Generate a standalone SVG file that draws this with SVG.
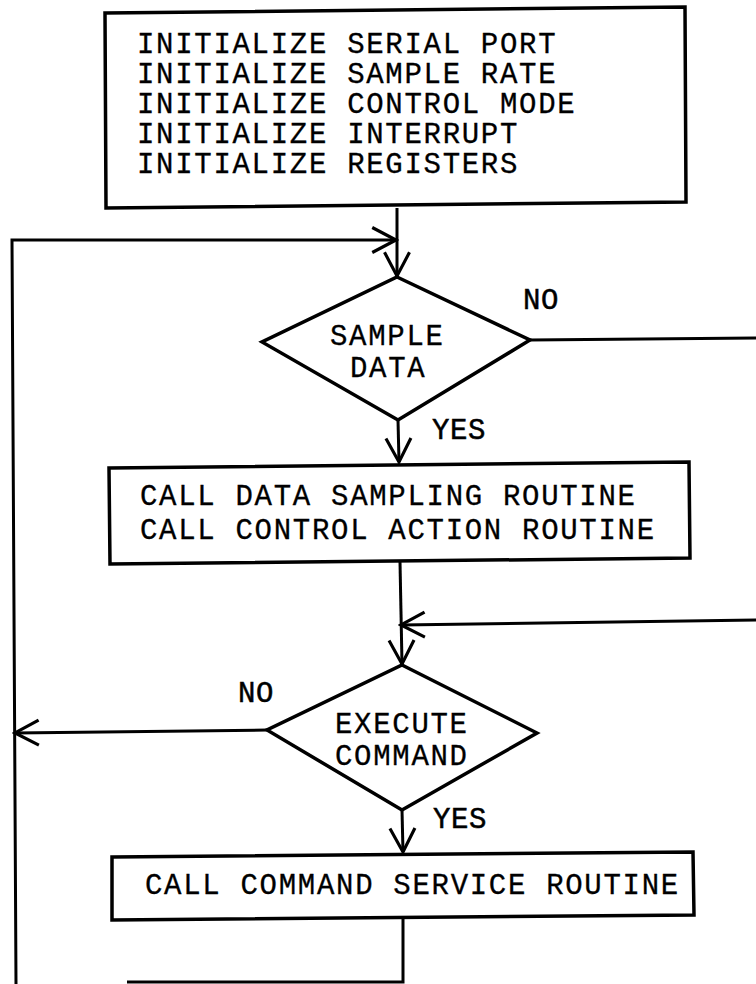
<svg xmlns="http://www.w3.org/2000/svg" width="756" height="984" viewBox="0 0 756 984">
  <style>
    .shape { fill: #fff; stroke: #000; stroke-width: 3.5; stroke-linejoin: miter; }
    .wire { fill: none; stroke: #000; stroke-width: 3; }
    .txt { font-family: "Liberation Mono", "Courier New", monospace; font-size: 29px; letter-spacing: 1.7px; fill: #000; stroke: #000; stroke-width: 0.3; }
    .lbl { font-family: "Liberation Mono", "Courier New", monospace; font-size: 29px; letter-spacing: 0.6px; fill: #000; stroke: #000; stroke-width: 0.5; }
  </style>
  <defs>
    <marker id="arrow" markerUnits="userSpaceOnUse" markerWidth="30" markerHeight="30" viewBox="-22 -12 24 24" refX="0" refY="0" orient="auto">
      <path d="M-19,-10 L0,0 L-19,10" fill="none" stroke="#000" stroke-width="2.5"/>
    </marker>
  </defs>
  <rect width="756" height="984" fill="#fff"/>

  <g id="connectors">
    <!-- init block down to first decision -->
    <path class="wire" d="M397,208 L397,276" marker-end="url(#arrow)"/>
    <!-- return loop entering from the left -->
    <path class="wire" d="M16,984 L12,240 L396,240" marker-end="url(#arrow)"/>
    <!-- SAMPLE DATA: NO branch leaving to the right -->
    <path class="wire" d="M530,340 L756,338"/>
    <!-- SAMPLE DATA: YES branch -->
    <path class="wire" d="M398,420 L399,462" marker-end="url(#arrow)"/>
    <!-- routine block down to second decision -->
    <path class="wire" d="M400,562 L402,664" marker-end="url(#arrow)"/>
    <!-- NO branch rejoining from the right -->
    <path class="wire" d="M756,620 L401,625" marker-end="url(#arrow)"/>
    <!-- EXECUTE COMMAND: NO branch back to the loop -->
    <path class="wire" d="M267,730 L15,733" marker-end="url(#arrow)"/>
    <!-- EXECUTE COMMAND: YES branch -->
    <path class="wire" d="M402,810 L403,852" marker-end="url(#arrow)"/>
    <!-- command service block back toward the loop -->
    <path class="wire" d="M403,918 L403,982 L127,982"/>
  </g>

  <g id="init">
    <polygon class="shape" points="105,13 685,7 686,202 106,208"/>
    <text class="txt" x="137" y="53">INITIALIZE SERIAL PORT</text>
    <text class="txt" x="137" y="83">INITIALIZE SAMPLE RATE</text>
    <text class="txt" x="137" y="113">INITIALIZE CONTROL MODE</text>
    <text class="txt" x="137" y="143">INITIALIZE INTERRUPT</text>
    <text class="txt" x="137" y="173">INITIALIZE REGISTERS</text>
  </g>

  <g id="sample-data">
    <polygon class="shape" points="397,277 530,340 398,420 262,342"/>
    <text class="txt" x="330" y="345">SAMPLE</text>
    <text class="txt" x="350" y="377">DATA</text>
    <text class="lbl" x="523" y="309">NO</text>
    <text class="lbl" x="432" y="439">YES</text>
  </g>

  <g id="routines">
    <polygon class="shape" points="109,468 689,462 690,558 110,564"/>
    <text class="txt" x="140" y="505">CALL DATA SAMPLING ROUTINE</text>
    <text class="txt" x="140" y="539">CALL CONTROL ACTION ROUTINE</text>
  </g>

  <g id="execute-command">
    <polygon class="shape" points="402,665 537,733 402,810 267,730"/>
    <text class="txt" x="335" y="733">EXECUTE</text>
    <text class="txt" x="335" y="765">COMMAND</text>
    <text class="lbl" x="238" y="702">NO</text>
    <text class="lbl" x="433" y="828">YES</text>
  </g>

  <g id="command-service">
    <polygon class="shape" points="112,857 693,852 694,915 112,920"/>
    <text class="txt" x="145" y="894">CALL COMMAND SERVICE ROUTINE</text>
  </g>
</svg>
